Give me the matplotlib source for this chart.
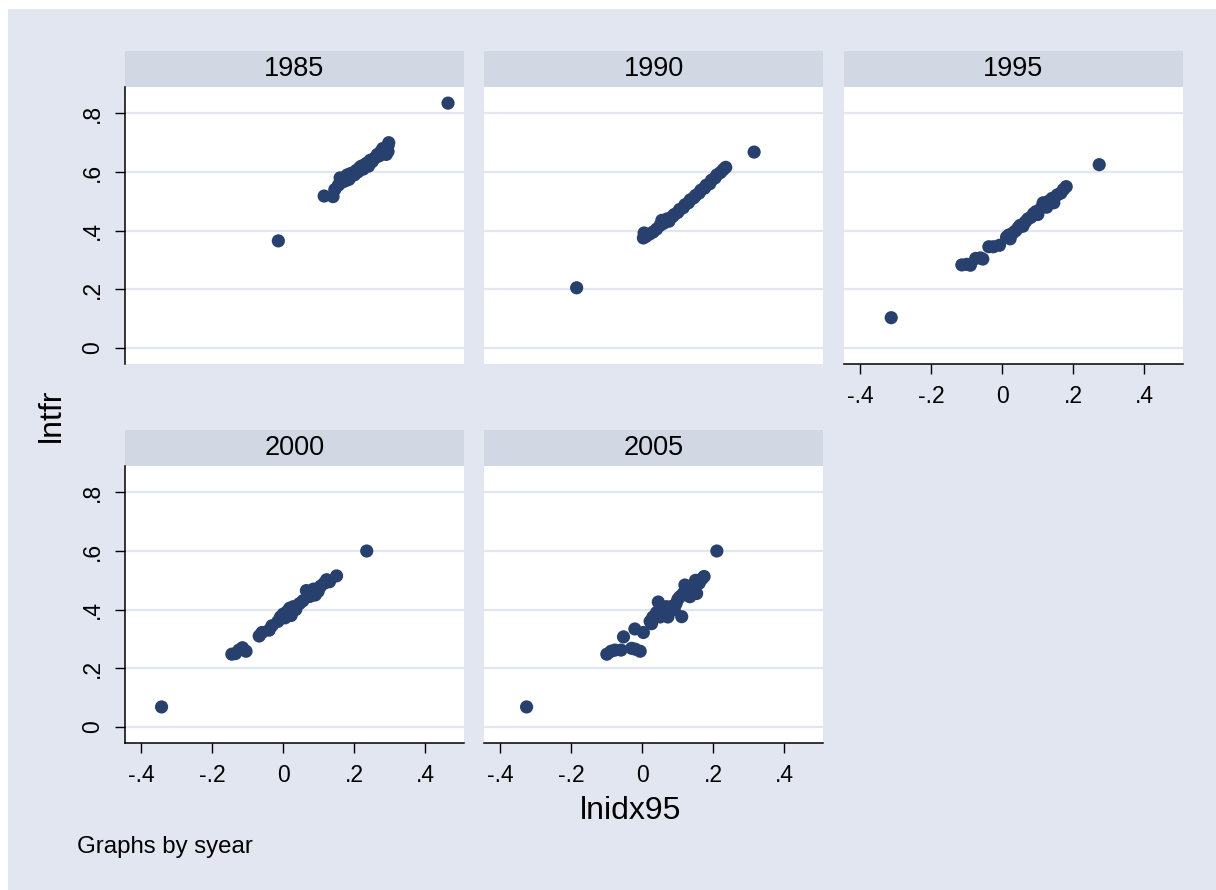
import matplotlib
matplotlib.use("Agg")
import matplotlib.pyplot as plt
from matplotlib.patches import Rectangle

plt.rcParams['font.family'] = ['Liberation Sans', 'DejaVu Sans']

# data, one pair of lists per year
years = ["1985", "1990", "1995", "2000", "2005"]

x_1985 = [-0.014, 0.464, 0.115, 0.140, 0.145, 0.155, 0.160, 0.165, 0.175, 0.180, 0.185,
          0.190, 0.200, 0.205, 0.210, 0.215, 0.220, 0.225, 0.230, 0.235, 0.240, 0.245,
          0.250, 0.255, 0.260, 0.265, 0.270, 0.275, 0.280, 0.285, 0.290, 0.292, 0.295,
          0.297, 0.295]
y_1985 = [0.365, 0.835, 0.518, 0.516, 0.540, 0.555, 0.580, 0.565, 0.570, 0.590, 0.575,
          0.595, 0.590, 0.605, 0.600, 0.615, 0.620, 0.610, 0.625, 0.630, 0.620, 0.640,
          0.635, 0.645, 0.650, 0.660, 0.655, 0.670, 0.680, 0.665, 0.660, 0.675, 0.690,
          0.700, 0.670]

x_1990 = [-0.185, 0.315, 0.003, 0.005, 0.010, 0.020, 0.030, 0.040, 0.050, 0.055, 0.060,
          0.070, 0.075, 0.085, 0.090, 0.100, 0.105, 0.115, 0.120, 0.130, 0.135, 0.145,
          0.150, 0.160, 0.165, 0.175, 0.180, 0.190, 0.195, 0.205, 0.210, 0.220, 0.228,
          0.235]
y_1990 = [0.205, 0.668, 0.375, 0.392, 0.380, 0.388, 0.395, 0.405, 0.418, 0.435, 0.425,
          0.440, 0.432, 0.448, 0.455, 0.462, 0.472, 0.478, 0.488, 0.495, 0.505, 0.512,
          0.520, 0.528, 0.538, 0.545, 0.555, 0.560, 0.572, 0.580, 0.590, 0.598, 0.608,
          0.616]

x_1995 = [-0.313, 0.273, -0.114, -0.100, -0.090, -0.075, -0.062, -0.055, -0.038, -0.025,
          -0.008, 0.012, 0.018, 0.022, 0.030, 0.038, 0.045, 0.050, 0.058, 0.065, 0.072,
          0.080, 0.088, 0.095, 0.100, 0.110, 0.115, 0.125, 0.130, 0.140, 0.145, 0.155,
          0.165, 0.172, 0.180]
y_1995 = [0.103, 0.625, 0.283, 0.285, 0.282, 0.305, 0.307, 0.303, 0.345, 0.345,
          0.350, 0.378, 0.385, 0.372, 0.392, 0.400, 0.410, 0.418, 0.415, 0.430, 0.440,
          0.445, 0.458, 0.465, 0.455, 0.478, 0.495, 0.480, 0.500, 0.510, 0.495, 0.522,
          0.528, 0.540, 0.550]

x_2000 = [-0.343, 0.235, -0.145, -0.135, -0.125, -0.115, -0.105, -0.068, -0.060, -0.040,
          -0.032, -0.015, -0.008, 0.000, 0.005, 0.012, 0.018, 0.022, 0.028, 0.035, 0.045,
          0.055, 0.065, 0.075, 0.085, 0.090, 0.098, 0.105, 0.115, 0.122, 0.130, 0.150]
y_2000 = [0.068, 0.600, 0.248, 0.250, 0.262, 0.270, 0.258, 0.310, 0.322, 0.330,
          0.345, 0.360, 0.375, 0.385, 0.372, 0.395, 0.405, 0.380, 0.410, 0.400, 0.420,
          0.430, 0.465, 0.445, 0.470, 0.450, 0.462, 0.480, 0.490, 0.502, 0.495, 0.515]

x_2005 = [-0.326, 0.210, -0.100, -0.088, -0.077, -0.060, -0.053, -0.030, -0.020, -0.006,
          -0.021, 0.003, 0.022, 0.026, 0.030, 0.040, 0.045, 0.050, 0.055, 0.060, 0.063,
          0.068, 0.072, 0.078, 0.085, 0.090, 0.095, 0.100, 0.106, 0.111, 0.115, 0.120,
          0.128, 0.134, 0.140, 0.150, 0.153, 0.160, 0.168, 0.174]
y_2005 = [0.068, 0.600, 0.248, 0.258, 0.262, 0.262, 0.307, 0.268, 0.265, 0.258,
          0.334, 0.322, 0.360, 0.352, 0.375, 0.390, 0.426, 0.375, 0.398, 0.405, 0.380,
          0.410, 0.375, 0.395, 0.412, 0.400, 0.420, 0.435, 0.444, 0.376, 0.455, 0.484,
          0.462, 0.444, 0.480, 0.500, 0.455, 0.490, 0.505, 0.513]

xs = [x_1985, x_1990, x_1995, x_2000, x_2005]
ys = [y_1985, y_1990, y_1995, y_2000, y_2005]

xticks = [-0.4, -0.2, 0, 0.2, 0.4]
xtick_labels = ["-.4", "-.2", "0", ".2", ".4"]
yticks = [0, 0.2, 0.4, 0.6, 0.8]
ytick_labels = ["0", ".2", ".4", ".6", ".8"]

bg = "#E1E6F0"
strip_col = "#D1D8E4"
navy = "#27406E"

W, H = 1216, 890
fig = plt.figure(figsize=(W / 100, H / 100), dpi=100)
fig.patch.set_facecolor("white")
fig.add_artist(Rectangle((8 / W, 0), 1, (H - 9) / H, transform=fig.transFigure,
                         facecolor=bg, edgecolor="none", zorder=0))

# panel positions in pixels: left, top of plot area
lefts = [125, 484, 844]
tops = [87, 466]
pw, ph = 339, 277
strip_h = 36

for i, yr in enumerate(years):
    r, c = divmod(i, 3)
    l = lefts[c]
    t = tops[r]
    ax = fig.add_axes([l / W, (H - t - ph) / H, pw / W, ph / H])
    ax.set_facecolor("white")
    ax.scatter(xs[i], ys[i], s=90, color=navy, edgecolors="none", zorder=3)
    ax.set_xlim(-0.446, 0.509)
    ax.set_ylim(-0.055, 0.89)
    ax.set_yticks(yticks)
    ax.set_xticks(xticks)
    ax.grid(axis="y", color=bg, lw=1.6, zorder=1)
    ax.set_axisbelow(True)
    for s in ["top", "right"]:
        ax.spines[s].set_visible(False)

    show_y = c == 0
    show_x = (r == 1) or (i == 2)
    ax.spines["left"].set_visible(show_y)
    ax.spines["bottom"].set_visible(show_x)
    ax.spines["left"].set_linewidth(1.1)
    ax.spines["bottom"].set_linewidth(1.1)

    if show_y:
        ax.set_yticklabels(ytick_labels, rotation=90, va="center", fontsize=16.5)
        ax.tick_params(axis="y", length=7, width=1, pad=8)
    else:
        ax.tick_params(axis="y", left=False, labelleft=False)
    if show_x:
        ax.set_xticklabels(xtick_labels, fontsize=16.5)
        ax.tick_params(axis="x", length=7, width=1, pad=8)
    else:
        ax.tick_params(axis="x", bottom=False, labelbottom=False)

    # strip with the year on top of each panel
    ax.add_patch(Rectangle((0, 1), 1, strip_h / ph, transform=ax.transAxes,
                           facecolor=strip_col, edgecolor="none", clip_on=False))
    ax.text(0.5, 1 + strip_h / ph / 2, yr, transform=ax.transAxes,
            ha="center", va="center", fontsize=19.5)

fig.text(631 / W, 1 - 811 / H, "lnidx95", ha="center", va="center", fontsize=23)
fig.text(52 / W, 1 - 415 / H, "lntfr", ha="center", va="center", rotation=90, fontsize=23)
fig.text(77 / W, 1 - 853 / H, "Graphs by syear", ha="left", va="baseline", fontsize=17.3)

fig.savefig("out.png", dpi=100)
